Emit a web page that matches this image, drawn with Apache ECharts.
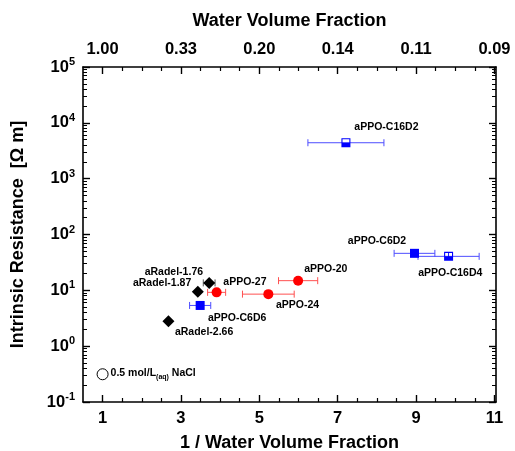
<!DOCTYPE html>
<html>
<head>
<meta charset="utf-8">
<script src="https://cdn.jsdelivr.net/npm/echarts@6/dist/echarts.min.js"></script>
<style>html,body{margin:0;padding:0;background:#fff}#c{width:515px;height:451px}</style>
</head>
<body>
<div id="c"></div>
<script>
// ---------- data ----------
const xMajorTicks = [1, 3, 5, 7, 9, 11];
const xMinorTicks = [1.5, 2, 2.5, 3.5, 4, 4.5, 5.5, 6, 6.5, 7.5, 8, 8.5, 9.5, 10, 10.5];
const yExponents = [-1, 0, 1, 2, 3, 4, 5];

const blueNames = ['aPPO-C16D2', 'aPPO-C6D2', 'aPPO-C16D4', 'aPPO-C6D6'];
const blueX     = [7.21, 8.96, 9.83, 3.49];
const blueY     = [4400, 46, 40.6, 5.36];
const blueXErr  = [0.97, 0.52, 0.78, 0.27];

const redNames  = ['aPPO-20', 'aPPO-27', 'aPPO-24'];
const redX      = [5.99, 3.91, 5.23];
const redY      = [14.9, 9.2, 8.55];
const redXErr   = [0.5, 0.23, 0.66];

const blackNames = ['aRadel-1.76', 'aRadel-1.87', 'aRadel-2.66'];
const blackX     = [3.72, 3.43, 2.68];
const blackY     = [13.6, 9.4, 2.8];
const blackXErr  = [0.15, 0, 0];

const naclX = [1];
const naclY = [0.314];

// ---------- layout / style ----------
const X_MIN = 0.5, X_MAX = 11.04, Y_MIN = 0.1, Y_MAX = 100000;
const FONT = '"Liberation Sans", Arial, sans-serif';
const BLUE = '#0000ff', BLUE_ERR = '#4d4dff', RED = '#ff0000', RED_ERR = '#ff5050';

const HALF_SQ = 'path://M0,0L10,0L10,10L0,10Z M1.2,1.2L1.2,5L8.8,5L8.8,1.2Z';
const HALF_SQ_SPLIT = 'path://M0,0L10,0L10,10L0,10Z M1.2,1.2L1.2,5L4.5,5L4.5,1.2Z M5.5,1.2L5.5,5L8.8,5L8.8,1.2Z';
const symbolFor = { 'aPPO-C16D2': HALF_SQ, 'aPPO-C16D4': HALF_SQ_SPLIT, 'aPPO-C6D2': 'rect', 'aPPO-C6D6': 'rect' };
const labelOffset = {
  'aPPO-C16D2': [40.5, -15.7], 'aPPO-C6D2': [-37.5, -12.3], 'aPPO-C16D4': [1.7, 16.7], 'aPPO-C6D6': [37, 12.7],
  'aPPO-20': [27.7, -11.5], 'aPPO-27': [28.3, -10.6], 'aPPO-24': [29.2, 11],
  'aRadel-1.76': [-35.3, -10.7], 'aRadel-1.87': [-35.7, -8.7], 'aRadel-2.66': [35.7, 11]
};

function yMinor() {
  const out = [];
  for (let n = -1; n <= 4; n++) for (let k = 2; k <= 9; k++) out.push(Math.log10(k) + n);
  return out;
}

function pts(xs, ys, names) {
  return xs.map((x, i) => {
    const item = { name: names ? names[i] : '', value: [x, ys[i]] };
    if (names) {
      item.label = { show: true, position: 'inside', offset: labelOffset[names[i]], formatter: names[i] };
      if (symbolFor[names[i]]) item.symbol = symbolFor[names[i]];
    }
    return item;
  });
}
function errData(xs, ys, es) { return xs.map((x, i) => [x, ys[i], es[i]]); }
function errRender(color) {
  return function (params, api) {
    const x = api.value(0), y = api.value(1), e = api.value(2);
    if (!e) return null;
    const p1 = api.coord([x - e, y]), p2 = api.coord([x + e, y]);
    const h = 3.5, st = { stroke: color, lineWidth: 1 };
    return { type: 'group', children: [
      { type: 'line', shape: { x1: p1[0], y1: p1[1], x2: p2[0], y2: p2[1] }, style: st },
      { type: 'line', shape: { x1: p1[0], y1: p1[1] - h, x2: p1[0], y2: p1[1] + h }, style: st },
      { type: 'line', shape: { x1: p2[0], y1: p2[1] - h, x2: p2[0], y2: p2[1] + h }, style: st }
    ]};
  };
}

const axisLineStyle = { show: true, onZero: false, lineStyle: { color: '#000', width: 1.6 } };
const tickLabelStyle = { color: '#000', fontSize: 16.5, fontWeight: 'bold', fontFamily: FONT };
const nameStyle = { color: '#000', fontSize: 18, fontWeight: 'bold', fontFamily: FONT };
const ptLabel = { color: '#000', fontSize: 10.5, fontWeight: 'bold', fontFamily: FONT };

function minorX(pos) {
  return { type: 'value', position: pos, min: X_MIN, max: X_MAX, axisLine: { show: false, onZero: false },
    axisLabel: { show: false }, splitLine: { show: false },
    axisTick: { show: true, inside: true, length: 4, customValues: xMinorTicks, lineStyle: { color: '#000', width: 1.2 } } };
}
function minorY(pos) {
  return { type: 'value', position: pos, min: Math.log10(Y_MIN), max: Math.log10(Y_MAX), axisLine: { show: false, onZero: false },
    axisLabel: { show: false }, splitLine: { show: false },
    axisTick: { show: true, inside: true, length: 4, customValues: yMinor(), lineStyle: { color: '#000', width: 1 } } };
}
const yLabelFmt = v => {
  const e = Math.round(Math.log10(v));
  if (Math.abs(v - Math.pow(10, e)) > 1e-6 * v || yExponents.indexOf(e) < 0) return '';
  return '{b|10}{s|' + e + '}';
};

const option = {
  animation: false,
  backgroundColor: '#fff',
  textStyle: { fontFamily: FONT },
  grid: { left: 83, right: 19, top: 67, bottom: 49, outerBoundsMode: 'none', containLabel: false },
  xAxis: [
    { type: 'value', position: 'bottom', min: X_MIN, max: X_MAX, axisLine: axisLineStyle, splitLine: { show: false },
      axisTick: { inside: true, length: 7, customValues: xMajorTicks, lineStyle: { color: '#000', width: 1.4 } },
      axisLabel: Object.assign({ customValues: xMajorTicks, margin: 8, formatter: v => String(v) }, tickLabelStyle),
      name: '1 / Water Volume Fraction', nameLocation: 'middle', nameGap: 32, nameTextStyle: nameStyle },
    minorX('bottom'),
    { type: 'value', position: 'top', min: X_MIN, max: X_MAX, axisLine: axisLineStyle, splitLine: { show: false },
      axisTick: { inside: true, length: 7, customValues: xMajorTicks, lineStyle: { color: '#000', width: 1.4 } },
      axisLabel: Object.assign({ customValues: xMajorTicks, margin: 9, formatter: v => (1 / v).toFixed(2) }, tickLabelStyle),
      name: 'Water Volume Fraction', nameLocation: 'middle', nameGap: 37, nameTextStyle: nameStyle },
    minorX('top')
  ],
  yAxis: [
    { type: 'log', logBase: 10, position: 'left', min: Y_MIN, max: Y_MAX, axisLine: axisLineStyle, splitLine: { show: false },
      axisTick: { inside: true, length: 7, lineStyle: { color: '#000', width: 1.4 } },
      axisLabel: { margin: 8, showMinLabel: true, showMaxLabel: true, formatter: yLabelFmt,
        rich: { b: { color: '#000', fontSize: 16.5, fontWeight: 'bold', fontFamily: FONT },
                s: { color: '#000', fontSize: 11, fontWeight: 'bold', fontFamily: FONT, verticalAlign: 'bottom', padding: [0, 0, 10, 0] } } },
      name: 'Intrinsic Resistance  [\u03A9 m]', nameLocation: 'middle', nameGap: 56, nameTextStyle: nameStyle },
    { type: 'log', logBase: 10, position: 'right', min: Y_MIN, max: Y_MAX, axisLine: axisLineStyle, splitLine: { show: false },
      axisTick: { inside: true, length: 7, lineStyle: { color: '#000', width: 1.4 } }, axisLabel: { show: false } },
    minorY('left'),
    minorY('right')
  ],
  series: [
    { type: 'custom', renderItem: errRender(BLUE_ERR), data: errData(blueX, blueY, blueXErr), encode: { x: 0, y: 1 }, z: 1, silent: true },
    { type: 'custom', renderItem: errRender(RED_ERR), data: errData(redX, redY, redXErr), encode: { x: 0, y: 1 }, z: 1, silent: true },
    { type: 'custom', renderItem: errRender('#555'), data: errData(blackX, blackY, blackXErr), encode: { x: 0, y: 1 }, z: 1, silent: true },
    { type: 'scatter', data: pts(blueX, blueY, blueNames), symbol: 'rect', symbolSize: 9,
      itemStyle: { color: BLUE, opacity: 1 }, label: ptLabel, z: 3 },
    { type: 'scatter', data: pts(redX, redY, redNames), symbol: 'circle', symbolSize: 10,
      itemStyle: { color: RED, opacity: 1 }, label: ptLabel, z: 3 },
    { type: 'scatter', data: pts(blackX, blackY, blackNames), symbol: 'diamond', symbolSize: 12,
      itemStyle: { color: '#000', opacity: 1 }, label: ptLabel, z: 3 },
    { type: 'scatter', data: pts(naclX, naclY, null), symbol: 'circle', symbolSize: 11,
      itemStyle: { color: '#fff', borderColor: '#000', borderWidth: 1, opacity: 1 }, z: 3,
      label: { show: true, position: 'right', distance: 2, offset: [0, -1],
        formatter: '{n|0.5 mol/L}{sub|(aq)}{n| NaCl}',
        rich: { n: { color: '#000', fontSize: 10.5, fontWeight: 'bold', fontFamily: FONT },
                sub: { color: '#000', fontSize: 7, fontWeight: 'bold', fontFamily: FONT, verticalAlign: 'top', padding: [7, 0, 0, 0] } } } }
  ]
};
const chart = echarts.init(document.getElementById('c'), null, { renderer: 'canvas' });
chart.setOption(option);
</script>
</body>
</html>
